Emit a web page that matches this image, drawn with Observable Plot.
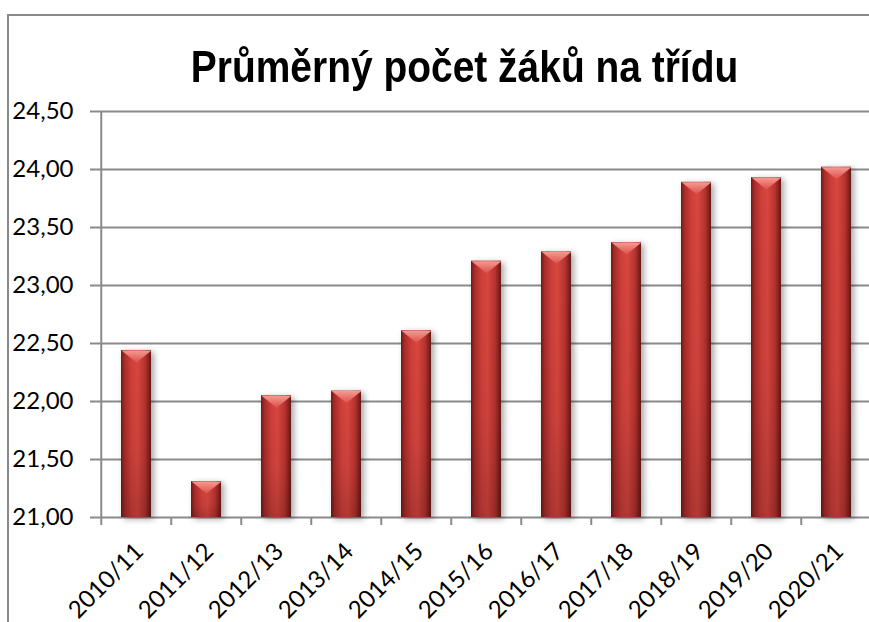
<!DOCTYPE html>
<html><head><meta charset="utf-8">
<script src="https://cdn.jsdelivr.net/npm/d3@7"></script>
<script src="https://cdn.jsdelivr.net/npm/@observablehq/plot@0.6"></script>
<style>
body{margin:0;background:#fff;}
#wrap{position:relative;width:869px;height:622px;overflow:hidden;background:#fff;}
#frame{position:absolute;left:7px;top:14px;width:900px;height:700px;border-left:2px solid #8a8a8a;border-top:2px solid #8a8a8a;box-sizing:border-box;}
#title{position:absolute;left:27px;width:869px;top:42px;text-align:center;font-family:"Liberation Sans",sans-serif;font-weight:bold;font-size:44px;line-height:50px;color:#000;white-space:nowrap;transform:scaleX(0.885);transform-origin:461px 0;}
#chart{position:absolute;left:0;top:0;}
</style>
</head><body>
<div id="wrap"><div id="frame"></div><div id="chart"></div><div id="title">Průměrný počet žáků na třídu</div></div>
<script>
const years = ["2010/11","2011/12","2012/13","2013/14","2014/15","2015/16","2016/17","2017/18","2018/19","2019/20","2020/21"];
const values = [22.44, 21.31, 22.05, 22.09, 22.61, 23.21, 23.29, 23.37, 23.89, 23.93, 24.02];
const yTicks = [21, 21.5, 22, 22.5, 23, 23.5, 24, 24.5];
const yDomain = [21, 24.5];

const data = years.map((year, i) => ({year, value: values[i]}));
const fmt = d => d3.format(".2f")(d).replace(".", ",");
const halfStep = 35.25;

const defs = () => {
  const g = d3.create("svg:defs");
  const h = g.append("linearGradient").attr("id", "barGrad").attr("x1", 0).attr("x2", 1).attr("y1", 0).attr("y2", 0);
  [[0,"#6f1a18"],[0.12,"#a82c29"],[0.35,"#cf3f3a"],[0.55,"#d8463f"],[0.8,"#b8332f"],[1,"#651715"]]
    .forEach(([o,c]) => h.append("stop").attr("offset", o).attr("stop-color", c));
  const v = g.append("linearGradient").attr("id", "vShade").attr("x1", 0).attr("x2", 0).attr("y1", 0).attr("y2", 1);
  [[0,"rgba(0,0,0,0)"],[0.6,"rgba(0,0,0,0.05)"],[1,"rgba(0,0,0,0.18)"]]
    .forEach(([o,c]) => v.append("stop").attr("offset", o).attr("stop-color", c));
  const t = g.append("linearGradient").attr("id", "capGrad").attr("x1", 0).attr("x2", 0).attr("y1", 0).attr("y2", 1);
  [[0,"#f49a92"],[1,"#dc5049"]]
    .forEach(([o,c]) => t.append("stop").attr("offset", o).attr("stop-color", c));
  return g.node();
};

const capSymbol = {
  draw(ctx) {
    ctx.moveTo(-15, 0);
    ctx.lineTo(15, 0);
    ctx.lineTo(0, 12);
    ctx.closePath();
  }
};

const chart = Plot.plot({
  width: 869,
  height: 622,
  marginTop: 111,
  marginBottom: 105,
  marginLeft: 98,
  marginRight: 0,
  style: {fontFamily: "Lato, sans-serif", background: "transparent", overflow: "visible"},
  x: {domain: years, range: [98, 873.5], paddingInner: 0.57, paddingOuter: 0.285, label: null},
  y: {domain: yDomain, range: [517, 111], label: null},
  marks: [
    defs,
    Plot.gridY(yTicks, {stroke: "#8a8a8a", strokeOpacity: 1, strokeWidth: 2}),
    Plot.ruleX([years[0]], {dx: -halfStep, y1: yDomain[0], y2: yDomain[1], stroke: "#8a8a8a", strokeWidth: 2}),
    Plot.axisY(yTicks, {tickSize: 8, tickPadding: 17, tickFormat: fmt, fontSize: 24, stroke: "#8a8a8a", strokeWidth: 2, fill: "#000", label: null}),
    Plot.axisX({tickSize: 8, tickFormat: () => "", dx: -halfStep, stroke: "#8a8a8a", strokeWidth: 2, label: null}),
    Plot.axisX({tickSize: 0, tickRotate: -45, tickPadding: 30, dx: 3, fontSize: 24, fill: "#000", label: null}),
    Plot.barY(data, {x: "year", y1: yDomain[0], y2: "value", fill: "url(#barGrad)", imageFilter: "drop-shadow(3px 2px 3px rgba(0,0,0,0.35))"}),
    Plot.barY(data, {x: "year", y1: yDomain[0], y2: "value", fill: "url(#vShade)"}),
    Plot.dot(data, {x: "year", y: "value", symbol: capSymbol, r: 10, fill: "url(#capGrad)", stroke: "none"})
  ]
});
document.getElementById("chart").append(chart);
</script>
</body></html>
